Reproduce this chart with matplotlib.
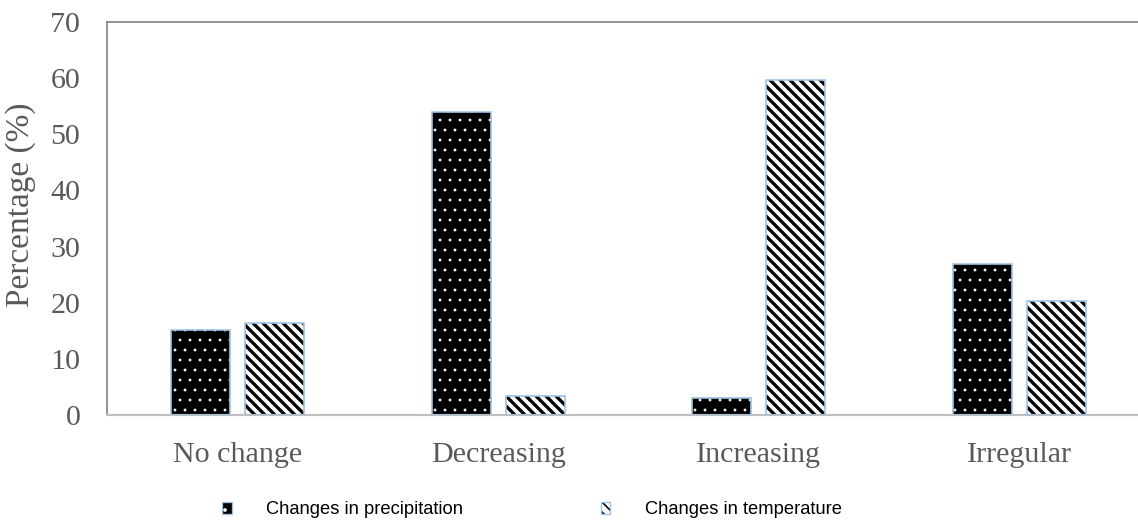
"""
Percentage of respondents perceiving changes in precipitation and temperature.
Writes out.png.
"""

import matplotlib
matplotlib.use("Agg")
import matplotlib.pyplot as plt
from matplotlib.patches import Patch
from matplotlib.legend_handler import HandlerTuple
import numpy as np


CATEGORIES = ["No change", "Decreasing", "Increasing", "Irregular"]
PRECIPITATION = [15.2, 54.0, 3.0, 26.9]
TEMPERATURE = [16.4, 3.4, 59.7, 20.3]
Y_TICKS = [0, 10, 20, 30, 40, 50, 60, 70]

SERIES_LABELS = ["Changes in precipitation", "Changes in temperature"]

GREY_TEXT = "#595959"
EDGE_BLUE = "#9DC3E6"

DPI = 120
DOTS = ".."
STRIPES = "\\" * 4


def main() -> None:
    plt.rcParams["font.family"] = ["Liberation Serif", "DejaVu Serif"]

    fig = plt.figure(figsize=(1138 / DPI, 520 / DPI), dpi=DPI)
    ax = fig.add_axes([107 / 1138, 1 - 415 / 520, 1 - 107 / 1138, (415 - 22) / 520])

    x = np.arange(len(CATEGORIES))
    width = 0.226
    offset = 0.142

    # precipitation: black with white dots
    with plt.rc_context({"hatch.linewidth": 0.5}):
        ax.bar(x - offset, PRECIPITATION, width, facecolor="black",
               edgecolor="white", hatch=DOTS, linewidth=0, zorder=2)
        dot_handle = Patch(facecolor="black", edgecolor="white",
                           hatch=DOTS, linewidth=0)
    ax.bar(x - offset, PRECIPITATION, width, fill=False,
           edgecolor=EDGE_BLUE, linewidth=1.0, zorder=3)

    # temperature: white with thick black diagonals
    with plt.rc_context({"hatch.linewidth": 2.0}):
        ax.bar(x + offset, TEMPERATURE, width, facecolor="white",
               edgecolor="black", hatch=STRIPES, linewidth=0, zorder=2)
        stripe_handle = Patch(facecolor="white", edgecolor="black",
                              hatch=STRIPES, linewidth=0)
    ax.bar(x + offset, TEMPERATURE, width, fill=False,
           edgecolor=EDGE_BLUE, linewidth=1.0, zorder=3)

    ax.set_xlim(-0.5006, 3.455)
    ax.set_ylim(0, 70)
    ax.set_yticks(Y_TICKS)
    ax.set_xticks(x)
    ax.set_xticklabels(CATEGORIES)
    ax.tick_params(axis="both", length=0, labelsize=18, labelcolor=GREY_TEXT)
    ax.tick_params(axis="y", pad=16)
    ax.tick_params(axis="x", pad=16)

    ax.set_ylabel("Percentage (%)", fontsize=20, color=GREY_TEXT)
    ax.yaxis.set_label_coords(-0.069, 0.535)

    ax.spines["right"].set_visible(False)
    for side in ("left", "top"):
        ax.spines[side].set_color("#808080")
        ax.spines[side].set_linewidth(1.0)
    ax.spines["bottom"].set_color("#BFBFBF")
    ax.spines["bottom"].set_linewidth(1.3)

    outline = Patch(fill=False, edgecolor=EDGE_BLUE, linewidth=0.8)
    fig.legend(
        [(dot_handle, outline), (stripe_handle, outline)],
        SERIES_LABELS,
        handler_map={tuple: HandlerTuple(ndivide=1)},
        loc="center",
        bbox_to_anchor=(532 / 1138, 1 - 510 / 520),
        ncol=2,
        frameon=False,
        prop={"family": "Liberation Sans", "size": 11},
        handlelength=0.5,
        handleheight=0.6,
        handletextpad=1.9,
        columnspacing=7.48,
    )

    fig.savefig("out.png", dpi=DPI)
    plt.close(fig)


if __name__ == "__main__":
    main()
